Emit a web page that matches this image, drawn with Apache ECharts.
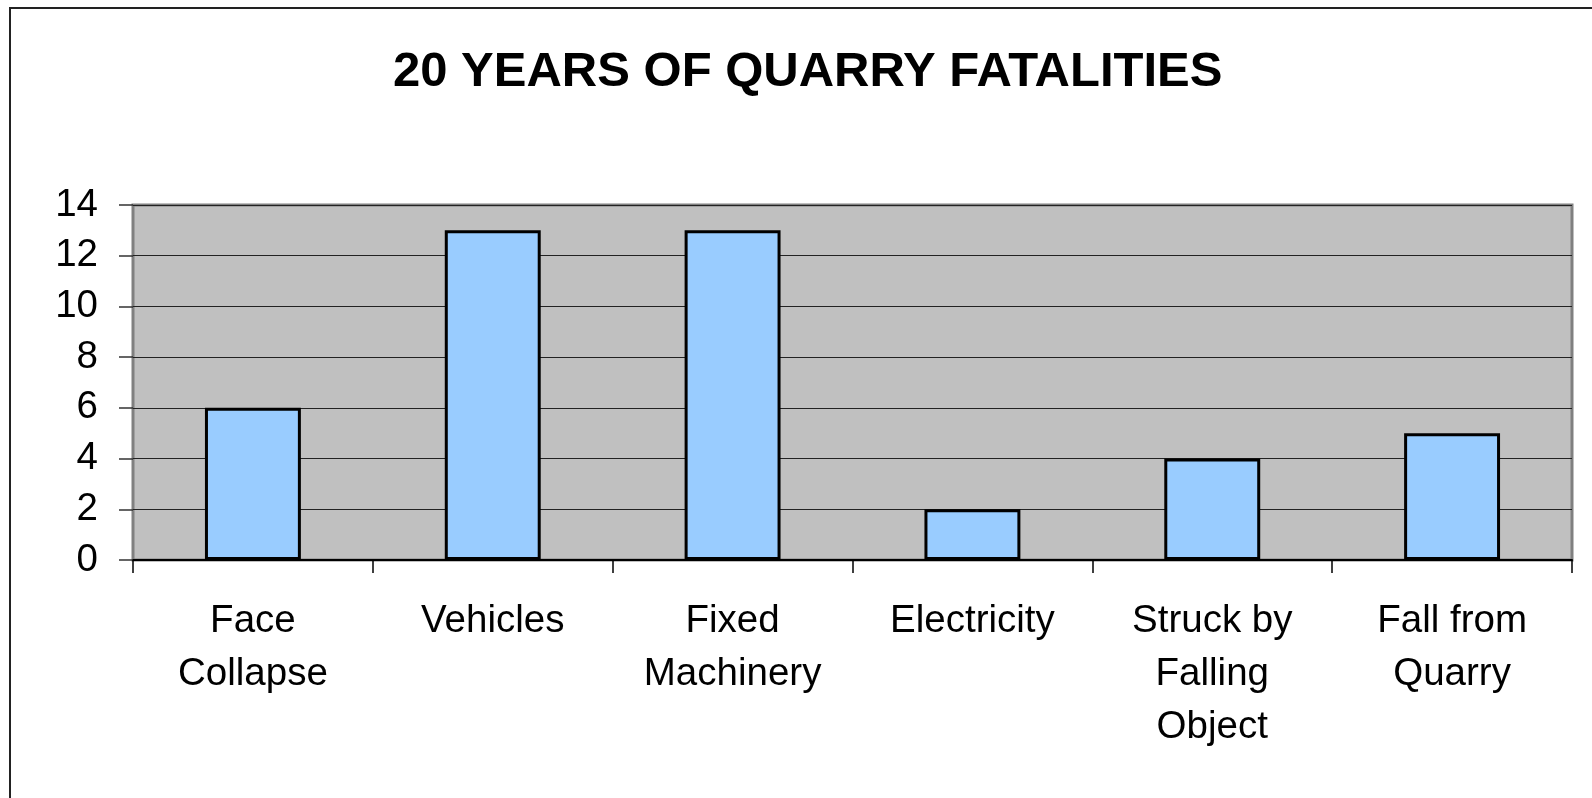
<!DOCTYPE html>
<html>
<head>
<meta charset="utf-8">
<script src="https://cdn.jsdelivr.net/npm/echarts@6/dist/echarts.min.js"></script>
<style>
html,body{margin:0;padding:0;background:#fff;}
#c{width:1592px;height:798px;}
</style>
</head>
<body>
<div id="c"></div>
<script>
const categories = ['Face\nCollapse', 'Vehicles', 'Fixed\nMachinery', 'Electricity', 'Struck by\nFalling\nObject', 'Fall from\nQuarry'];
const fatalities = [6, 13, 13, 2, 4, 5];
const titleText = '20 YEARS OF QUARRY FATALITIES';
const yMin = 0, yMax = 14, yStep = 2;

const font = '"Liberation Sans", Arial, sans-serif';
const chart = echarts.init(document.getElementById('c'), null, {renderer: 'canvas'});
chart.setOption({
  animation: false,
  backgroundColor: '#fff',
  graphic: [{
    type: 'rect',
    shape: {x: 10, y: 8, width: 1700, height: 900},
    style: {fill: 'none', stroke: '#222', lineWidth: 2},
    silent: true
  }],
  title: {
    text: titleText,
    left: 388,
    top: 43,
    textStyle: {fontFamily: font, fontWeight: 'bold', fontSize: 49, color: '#000'}
  },
  grid: {
    left: 133, top: 205, width: 1439, height: 355,
    show: true, backgroundColor: '#c0c0c0', borderColor: '#808080', borderWidth: 3
  },
  xAxis: {
    type: 'category',
    data: categories,
    boundaryGap: true,
    axisLine: {show: true, lineStyle: {color: '#000', width: 2}},
    axisTick: {show: true, length: 13, alignWithLabel: false, lineStyle: {color: '#000', width: 1.5}},
    axisLabel: {fontFamily: font, fontSize: 38.5, color: '#000', margin: 35, lineHeight: 53, interval: 0},
    splitLine: {show: false}
  },
  yAxis: {
    type: 'value',
    min: yMin, max: yMax, interval: yStep,
    axisLine: {show: false},
    axisTick: {show: true, length: 14, lineStyle: {color: '#333', width: 1.5}},
    axisLabel: {fontFamily: font, fontSize: 38.5, color: '#000', margin: 35},
    splitLine: {show: true, lineStyle: {color: '#222', width: 1.2}}
  },
  series: [{
    type: 'bar',
    data: fatalities,
    barWidth: '40%',
    itemStyle: {color: '#99ccff', borderColor: '#000', borderWidth: 3}
  }]
});
</script>
</body>
</html>
